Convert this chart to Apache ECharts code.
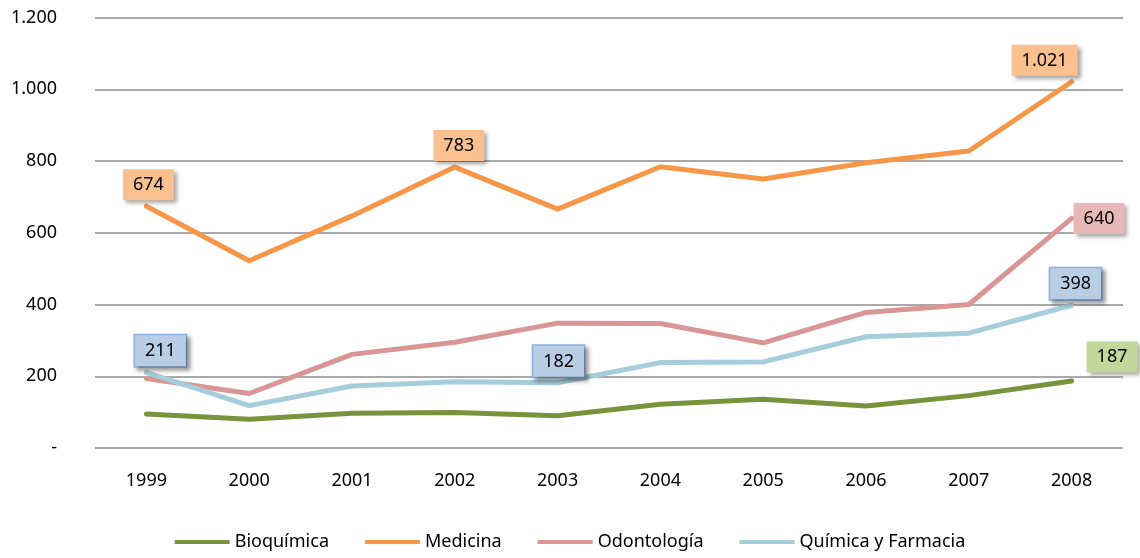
<!DOCTYPE html>
<html>
<head>
<meta charset="utf-8">
<script src="https://cdn.jsdelivr.net/npm/echarts@6/dist/echarts.min.js"></script>
<style>
  html, body { margin: 0; padding: 0; background: #fff; }
  #chart { width: 1140px; height: 558px; }
</style>
</head>
<body>
<div id="chart"></div>
<script>
const years = ['1999', '2000', '2001', '2002', '2003', '2004', '2005', '2006', '2007', '2008']
const bioquimica = [95, 80, 97, 99, 90, 122, 136, 117, 146, 187]
const medicina = [674, 522, 647, 783, 666, 784, 750, 795, 828, 1021]
const odontologia = [194, 152, 261, 295, 348, 347, 293, 378, 400, 640]
const quimica = [211, 118, 173, 185, 182, 238, 240, 310, 320, 398]

const FONT = 'Noto Sans'

// formato español: punto como separador de miles, guion para el cero
function fmt (v) {
  if (v === 0) return '-'
  return String(v).replace(/\B(?=(\d{3})+(?!\d))/g, '.')
}

function boxLabel (bg, border, extra) {
  return Object.assign({
    show: true,
    formatter: p => fmt(p.value),
    color: '#000',
    fontFamily: FONT,
    fontSize: 18,
    backgroundColor: bg,
    borderColor: border || 'transparent',
    borderWidth: border ? 1.5 : 0,
    padding: [7, 10, 6, 10],
    shadowColor: 'rgba(0,0,0,0.35)',
    shadowBlur: 4,
    shadowOffsetX: 3,
    shadowOffsetY: 3,
    position: 'top',
    distance: 5
  }, extra)
}

// etiquetas solo en algunos puntos
function withLabels (values, labels) {
  return values.map((v, i) => labels[i] ? { value: v, label: labels[i] } : v)
}

function lineSeries (name, color, data) {
  return {
    name: name,
    type: 'line',
    data: data,
    symbol: 'circle',
    symbolSize: 2,
    lineStyle: { color: color, width: 5, cap: 'round', join: 'round' },
    itemStyle: { color: color },
    emphasis: { disabled: true },
    z: 3
  }
}

const option = {
  animation: false,
  grid: { left: 95, right: 17, top: 17.5, bottom: 110 },
  legend: {
    bottom: 2,
    left: 'center',
    icon: 'rect',
    itemWidth: 55,
    itemHeight: 4,
    itemGap: 36,
    textStyle: { fontFamily: FONT, fontSize: 18, color: '#000' },
    data: ['Bioquímica', 'Medicina', 'Odontología', 'Química y Farmacia']
  },
  xAxis: {
    type: 'category',
    data: years,
    axisLine: { show: false },
    axisTick: { show: false },
    axisLabel: { fontFamily: FONT, fontSize: 18, color: '#000', margin: 24 }
  },
  yAxis: {
    type: 'value',
    min: 0,
    max: 1200,
    interval: 200,
    axisLine: { show: false },
    axisTick: { show: false },
    axisLabel: { fontFamily: FONT, fontSize: 18, color: '#000', margin: 38, formatter: fmt },
    splitLine: { lineStyle: { color: '#8c8c8c', width: 1.5 } }
  },
  series: [
    lineSeries('Bioquímica', '#77933C', withLabels(bioquimica, {
      9: boxLabel('#C3D69B', null, { position: 'right', distance: 14, offset: [0, -24] })
    })),
    lineSeries('Medicina', '#F79646', withLabels(medicina, {
      0: boxLabel('#FAC090', null, { offset: [2, 0] }),
      3: boxLabel('#FAC090', null, { offset: [4, 0] }),
      9: boxLabel('#FAC090', null, { offset: [-27, 0] })
    })),
    lineSeries('Odontología', '#D99694', withLabels(odontologia, {
      9: boxLabel('#E6B9B8', null, { position: 'right', distance: 1 })
    })),
    lineSeries('Química y Farmacia', '#A5CDDB', withLabels(quimica, {
      0: boxLabel('#B9CDE5', '#8EB4E3', { offset: [14, 0] }),
      4: boxLabel('#B9CDE5', '#8EB4E3', { offset: [1, 0] }),
      9: boxLabel('#B9CDE5', '#8EB4E3', { offset: [4, 0] })
    }))
  ]
}

const chart = echarts.init(document.getElementById('chart'))
chart.setOption(option)
window.addEventListener('resize', () => chart.resize())
</script>
</body>
</html>
